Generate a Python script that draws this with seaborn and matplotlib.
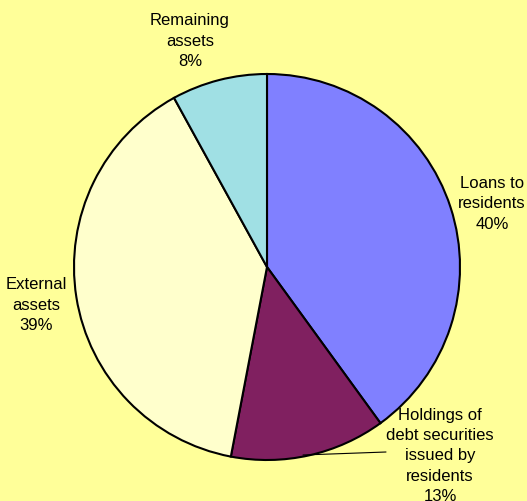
import matplotlib
matplotlib.use("Agg")
import matplotlib.pyplot as plt
import seaborn as sns

categories = ["Loans to\nresidents", "Holdings of\ndebt securities\nissued by\nresidents",
              "External\nassets", "Remaining\nassets"]
shares = [40, 13, 39, 8]
colors = ["#8080FF", "#802060", "#FFFFCC", "#A0E0E4"]

sns.set_style("white")
plt.rcParams['font.family'] = ['Liberation Sans', 'DejaVu Sans']

W, H = 527, 502
fig = plt.figure(figsize=(W / 100, H / 100), dpi=100, facecolor="#FFFF99")
ax = fig.add_axes([0, 0, 1, 1])
ax.set_facecolor("#FFFF99")

cx, cy, r = 267, H - 268, 193
ax.pie(shares, colors=colors, startangle=90, counterclock=False,
       center=(cx, cy), radius=r,
       wedgeprops=dict(edgecolor="black", linewidth=1.5))
ax.set_xlim(0, W)
ax.set_ylim(0, H)
ax.set_aspect("equal")
ax.axis("off")

label_pos = [(492, H - 204), (440, H - 456), (36, H - 305), (190, H - 41)]
for lab, val, (x, y) in zip(categories, shares, label_pos):
    ax.text(x, y, f"{lab}\n{val}%", ha="center", va="center", fontsize=12,
            linespacing=1.42, color="black")

# leader line for the small slice label
ax.plot([303, 386], [H - 456, H - 453], color="black", lw=0.8)

fig.savefig("out.png", dpi=100, facecolor=fig.get_facecolor())
